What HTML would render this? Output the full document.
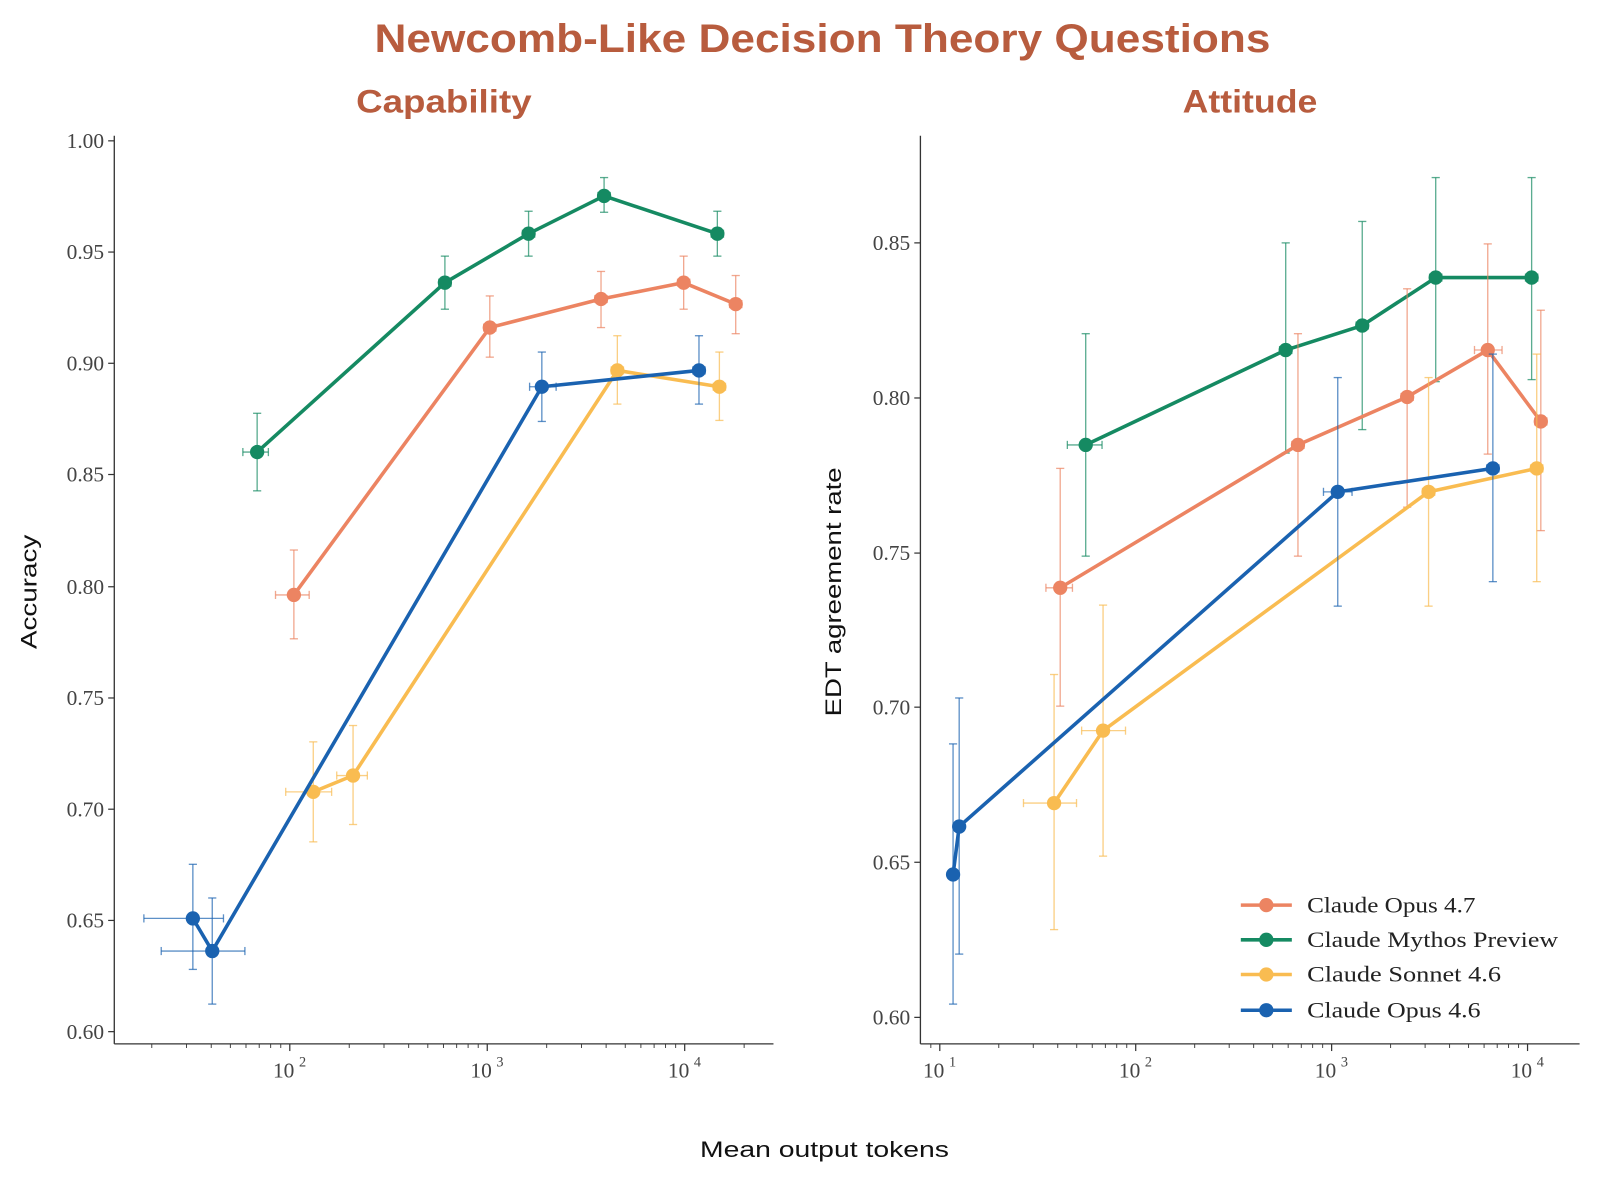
<!DOCTYPE html>
<html><head><meta charset="utf-8"><style>
html,body{margin:0;padding:0;background:#fff;width:1600px;height:1183px;overflow:hidden}
svg text{font-family:"Liberation Serif",serif}
.t{font-family:"Liberation Sans",sans-serif!important;font-weight:bold;fill:#B85C3E}
.lab{font-family:"Liberation Sans",sans-serif!important;fill:#111}
</style></head><body>
<svg id="s" width="1600" height="1183" viewBox="0 0 1568 1159.3" xmlns="http://www.w3.org/2000/svg">
<text class="t" x="806" y="51" font-size="39" text-anchor="middle" textLength="878" lengthAdjust="spacingAndGlyphs">Newcomb-Like Decision Theory Questions</text>
<text class="t" x="435" y="110" font-size="32" text-anchor="middle" textLength="172" lengthAdjust="spacingAndGlyphs">Capability</text>
<text class="t" x="1225" y="110" font-size="32" text-anchor="middle" textLength="132" lengthAdjust="spacingAndGlyphs">Attitude</text>
<text class="lab" x="808" y="1134" font-size="22" text-anchor="middle" textLength="244" lengthAdjust="spacingAndGlyphs">Mean output tokens</text>
<text class="lab" x="36" y="580" font-size="22" text-anchor="middle" transform="rotate(-90 36 580)" textLength="112" lengthAdjust="spacingAndGlyphs">Accuracy</text>
<text class="lab" x="824" y="580" font-size="22" text-anchor="middle" transform="rotate(-90 824 580)" textLength="244" lengthAdjust="spacingAndGlyphs">EDT agreement rate</text>
<g id="g"></g>
</svg>
<script>
const g=document.getElementById('g');const NS='http://www.w3.org/2000/svg';
function el(t,a,txt){const e=document.createElementNS(NS,t);for(const k in a)e.setAttribute(k,a[k]);if(txt!==undefined)e.textContent=txt;g.appendChild(e);return e;}
const C={o:'#EC8462',g:'#158A62',y:'#F9BC51',b:'#1A62B0'};
function axes(x0,x1,y0,y1,yt,dec0,decPx,xMin,xMax,pow){
 el('line',{x1:x0,y1:y0,x2:x0,y2:y1,stroke:'#333','stroke-width':1.3});
 el('line',{x1:x0,y1:y1,x2:x1,y2:y1,stroke:'#333','stroke-width':1.3});
 yt.forEach(([v,y])=>{el('line',{x1:x0-6,y1:y,x2:x0,y2:y,stroke:'#333','stroke-width':1.2});
  el('text',{x:x0-10,y:y+7,'font-size':21,'text-anchor':'end',fill:'#444'},v);});
 for(let d=-2;d<4;d++)for(let m=1;m<10;m++){const x=dec0+(d+Math.log10(m))*decPx;if(x<xMin||x>xMax)continue;
  const maj=m==1;el('line',{x1:x,y1:y1,x2:x,y2:y1+(maj?7:4),stroke:'#333','stroke-width':maj?1.2:0.9});
  if(maj){el('text',{x:x-6,y:y1+33,'font-size':21,'text-anchor':'middle',fill:'#444'},'10');
   el('text',{x:x+9,y:y1+22,'font-size':14,'text-anchor':'start',fill:'#444'},String(pow+d));}}
}
axes(112,758,133,1023,[['1.00',138],['0.95',247],['0.90',356],['0.85',465],['0.80',575],['0.75',684],['0.70',793],['0.65',902],['0.60',1011]],284,193.5,118,758,2);
axes(902,1548,133,1023,[['0.85',238],['0.80',390],['0.75',542],['0.70',693],['0.65',845],['0.60',997]],921,192,905,1548,1);
function series(c,pts){
 pts.forEach(p=>{const [x,y,ya,yb,xa,xb]=p;
  el('line',{x1:x,y1:ya,x2:x,y2:yb,stroke:c,'stroke-width':1.3,opacity:0.7});
  el('line',{x1:x-4,y1:ya,x2:x+4,y2:ya,stroke:c,'stroke-width':1.3,opacity:0.7});
  el('line',{x1:x-4,y1:yb,x2:x+4,y2:yb,stroke:c,'stroke-width':1.3,opacity:0.7});
  const a=xa||x-6,b=xb||x+6;
  el('line',{x1:a,y1:y,x2:b,y2:y,stroke:c,'stroke-width':1.3,opacity:0.7});
  el('line',{x1:a,y1:y-4,x2:a,y2:y+4,stroke:c,'stroke-width':1.3,opacity:0.7});
  el('line',{x1:b,y1:y-4,x2:b,y2:y+4,stroke:c,'stroke-width':1.3,opacity:0.7});});
 el('polyline',{points:pts.map(p=>p[0]+','+p[1]).join(' '),fill:'none',stroke:c,'stroke-width':3.5,'stroke-linejoin':'round'});
 pts.forEach(p=>el('circle',{cx:p[0],cy:p[1],r:7,fill:c}));
}
series(C.g,[[252,443,405,481,238,263],[436,277,251,303],[518,229,207,251],[592,192,174,208],[703,229,207,251]]);
series(C.o,[[288,583,539,626,270,303],[480,321,290,350],[589,293,266,321],[670,277,251,303],[721,298,270,327]]);
series(C.y,[[307,776,727,825,280,325],[346,760,711,808,330,360],[605,363,329,396],[705,379,345,412]]);
series(C.b,[[189,900,847,950,141,219],[208,932,880,984,158,240],[531,379,345,413,519,545],[685,363,329,396]]);
series(C.g,[[1064,436,327,545,1046,1080],[1260,343,238,444],[1335,319,217,421],[1407,272,174,374],[1501,272,174,372]]);
series(C.o,[[1039,576,459,692,1025,1051],[1272,436,327,545],[1379,389,283,497],[1458,343,239,445,1445,1472],[1510,413,304,520]]);
series(C.y,[[1033,787,661,911,1003,1055],[1081,716,593,839,1060,1103],[1400,482,370,594],[1506,459,347,570]]);
series(C.b,[[934,857,729,984,932,937],[940,810,684,935,937,944],[1311,482,370,594,1297,1325],[1463,459,347,570]]);
[['Claude Opus 4.7',C.o,887,165],['Claude Mythos Preview',C.g,921,246],['Claude Sonnet 4.6',C.y,955,190],['Claude Opus 4.6',C.b,990,170]].forEach(([t,c,y,w])=>{
 el('line',{x1:1216,y1:y,x2:1266,y2:y,stroke:c,'stroke-width':3.5});
 el('circle',{cx:1241,cy:y,r:7,fill:c});
 el('text',{x:1281,y:y+7,'font-size':22,fill:'#222',textLength:w,lengthAdjust:'spacingAndGlyphs'},t);});
</script>
</body></html>
